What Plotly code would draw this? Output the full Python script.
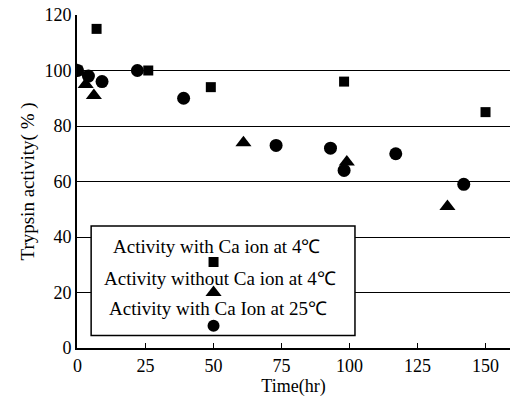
import plotly.graph_objects as go

# Data (Time in hr, Trypsin activity %)
sq_x = [0, 7, 26, 49, 98, 150]
sq_y = [100, 115, 100, 94, 96, 85]
tri_x = [0, 3, 6, 61, 99, 136]
tri_y = [100, 95, 91, 74, 67, 51]
cir_x = [0, 4, 9, 22, 39, 73, 93, 98, 117, 142]
cir_y = [100, 98, 96, 100, 90, 73, 72, 64, 70, 59]

legend_labels = ["Activity with Ca ion at 4℃", "Activity without Ca ion at 4℃", "Activity with Ca Ion at 25℃"]
legend_marker_x = [50, 50, 50]
legend_marker_y = [31, 20, 8]
legend_text_x = [51, 52.5, 51.5]
legend_text_y = [36.4, 25.2, 14.4]
x_ticks = [0, 25, 50, 75, 100, 125, 150]
y_ticks = [0, 20, 40, 60, 80, 100, 120]

FONT = "Liberation Serif"
BLACK = "#000000"
fig = go.Figure()

fig.add_trace(go.Scatter(x=sq_x, y=sq_y, mode="markers",
                         marker=dict(symbol="square", size=10, color=BLACK)))
fig.add_trace(go.Scatter(x=tri_x, y=tri_y, mode="markers",
                         marker=dict(symbol="triangle-up", size=14, color=BLACK)))
fig.add_trace(go.Scatter(x=cir_x, y=cir_y, mode="markers",
                         marker=dict(symbol="circle", size=13, color=BLACK)))

# Legend box
fig.add_shape(type="rect", xref="x", yref="y", x0=5, x1=102, y0=4.5, y1=44,
              line=dict(color=BLACK, width=1.5), fillcolor="white", opacity=1,
              layer="between")
syms = ["square", "triangle-up", "circle"]
sizes = [10, 14, 12]
for i in range(3):
    fig.add_trace(go.Scatter(x=[legend_marker_x[i]], y=[legend_marker_y[i]], mode="markers",
                             marker=dict(symbol=syms[i], size=sizes[i], color=BLACK),
                             cliponaxis=False))
    fig.add_annotation(x=legend_text_x[i], y=legend_text_y[i], xref="x", yref="y",
                       text=legend_labels[i], showarrow=False,
                       font=dict(family=FONT, size=19, color=BLACK),
                       xanchor="center", yanchor="middle")

fig.update_layout(
    template="simple_white",
    width=511, height=399,
    margin=dict(l=77, r=1, t=15, b=51),
    paper_bgcolor="white", plot_bgcolor="white",
    showlegend=False,
    font=dict(family=FONT, size=18, color=BLACK),
)
fig.update_xaxes(range=[-0.2, 159], tickvals=x_ticks, ticks="inside", ticklen=5,
                 tickcolor=BLACK, showline=True, linecolor=BLACK, linewidth=2,
                 showgrid=False, zeroline=False,
                 title=dict(text="Time(hr)", font=dict(family=FONT, size=18, color=BLACK), standoff=3),
                 tickfont=dict(family=FONT, size=18, color=BLACK))
fig.update_yaxes(range=[0, 120], tickvals=y_ticks, ticks="inside", ticklen=5,
                 tickcolor=BLACK, showline=True, linecolor=BLACK, linewidth=2,
                 showgrid=True, gridcolor=BLACK, gridwidth=1, zeroline=False,
                 title=dict(text="Trypsin activity( % )", font=dict(family=FONT, size=19, color=BLACK), standoff=5),
                 tickfont=dict(family=FONT, size=18, color=BLACK))

fig.write_html("out.html")
